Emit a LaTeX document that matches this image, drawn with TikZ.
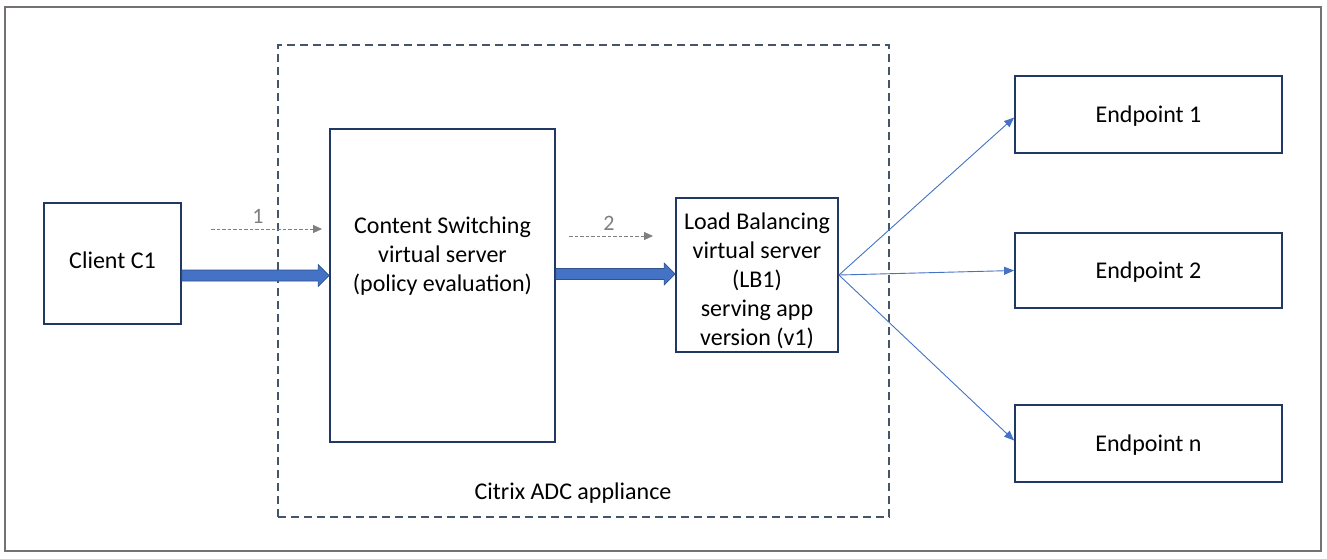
\documentclass[tikz,border=0pt]{standalone}
\usepackage{fontspec}
\setmainfont{Carlito}
\usetikzlibrary{arrows.meta,calc}
\definecolor{navy}{HTML}{203864}
\definecolor{frame}{HTML}{767171}
\definecolor{slate}{HTML}{44546A}
\definecolor{ablue}{HTML}{4472C4}
\definecolor{ablueline}{HTML}{2F528F}
\definecolor{lgray}{HTML}{7F7F7F}
\tikzset{
  box/.style={draw=navy, line width=1.8pt, fill=white, inner sep=0pt, align=center,
    font=\fontsize{24}{29}\selectfont},
  txt/.style={inner sep=0pt, align=center, font=\fontsize{24}{29}\selectfont},
  stepnum/.style={inner sep=0pt, text=lgray, font=\fontsize{22}{26}\selectfont},
  thin/.style={draw=ablue, line width=0.9pt, -{Triangle[length=10pt,width=8pt]}},
  dasharrow/.style={draw=lgray, line width=0.9pt, dash pattern=on 3.5pt off 2pt,
    -{Triangle[length=9pt,width=8pt]}},
  fat/.style={fill=ablue, draw=ablueline, line width=0.6pt}
}
\newcommand{\fatarrow}[2]{%
  \filldraw[fat] ($(#1)+(0,5.5)$) -- ($(#2)+(-11,5.5)$) -- ($(#2)+(-11,11)$) -- (#2)
   -- ($(#2)+(-11,-11)$) -- ($(#2)+(-11,-5.5)$) -- ($(#1)+(0,-5.5)$) -- cycle;}
\begin{document}
\begin{tikzpicture}[x=1pt,y=-1pt]
\useasboundingbox (0,0) rectangle (1327,558);
\fill[white] (0,0) rectangle (1327,558);
% outer frame
\draw[frame, line width=2pt] (5,7) rectangle (1321,551);
% appliance dashed box
\node[draw=slate, line width=1.4pt, dash pattern=on 8pt off 5pt, minimum width=611pt,
  minimum height=472pt, inner sep=0pt] (adc) at (583.5,281) {};
\node[txt] (adclabel) at (573,493) {Citrix ADC appliance};
% boxes
\node[box, minimum width=137pt, minimum height=121pt] (client) at (112.5,263.5) {};
\node[txt] (clienttext) at (112.5,260) {Client C1};
\node[box, minimum width=225pt, minimum height=313pt] (cs) at (442.5,285.5) {};
\node[txt] (cstext) at (442.5,256) {Content Switching\\virtual server\\(policy evaluation)};
\node[box, minimum width=162pt, minimum height=154pt] (lb) at (757,275) {};
\node[txt] (lbtext) at (757,281)
  {Load Balancing\\virtual server\\(LB1)\\serving app\\version (v1)};
\node[box, minimum width=267pt, minimum height=77pt] (e1) at (1148.5,114.5) {};
\node[txt] (e1text) at (1148.5,116) {Endpoint 1};
\node[box, minimum width=267pt, minimum height=75pt] (e2) at (1148.5,270.5) {};
\node[txt] (e2text) at (1148.5,272) {Endpoint 2};
\node[box, minimum width=267pt, minimum height=77pt] (en) at (1148.5,443.5) {};
\node[txt] (entext) at (1148.5,445) {Endpoint n};
% fat arrows
\coordinate (f1s) at (client.east |- 0,275.5);
\coordinate (f1e) at (cs.west |- 0,275.5);
\fatarrow{f1s}{f1e}
\coordinate (f2s) at (cs.east |- 0,274);
\coordinate (f2e) at (lb.west |- 0,274);
\fatarrow{f2s}{f2e}
% dashed step arrows
\coordinate (d1s) at (211,229);
\coordinate (d1e) at (322,229);
\draw[dasharrow] (d1s) -- (d1e);
\node[stepnum] (n1) at (258,216) {1};
\coordinate (d2s) at (569,236);
\coordinate (d2e) at (653,236);
\draw[dasharrow] (d2s) -- (d2e);
\node[stepnum] (n2) at (609,223) {2};
% thin arrows
\draw[thin] (lb.east) -- ($(e1.west)+(0,3)$);
\draw[thin] (lb.east) -- (e2.west);
\draw[thin] (lb.east) -- ($(en.west)+(0,-3)$);
\end{tikzpicture}
\end{document}
